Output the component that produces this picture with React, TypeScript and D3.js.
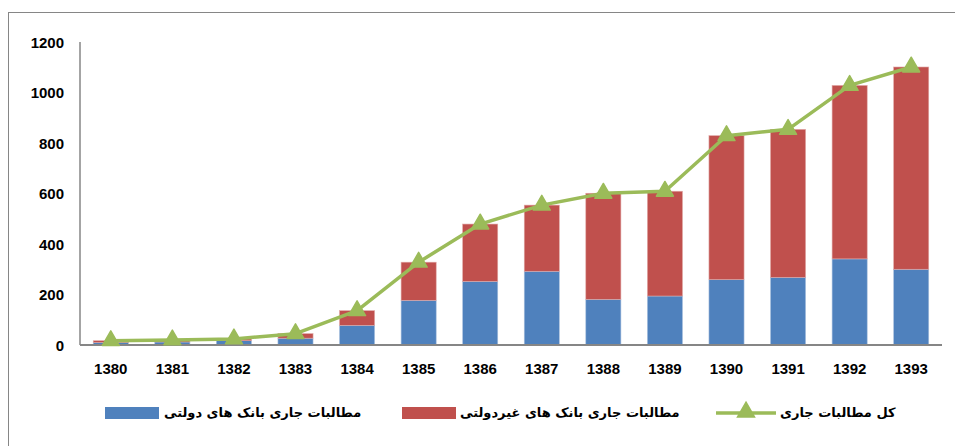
import React, { useEffect, useRef } from 'react';
import * as d3 from 'd3';

const years = ['1380', '1381', '1382', '1383', '1384', '1385', '1386', '1387', '1388', '1389', '1390', '1391', '1392', '1393'];
const govBanks = [10, 12, 17, 27, 78, 177, 252, 292, 181, 194, 259, 268, 341, 300];
const privateBanks = [7, 8, 7, 18, 58, 151, 227, 262, 420, 415, 570, 586, 687, 801];
const yTicks = [0, 200, 400, 600, 800, 1000, 1200];

const labelGov = 'مطالبات جاری بانک های دولتی';
const labelPrivate = 'مطالبات جاری بانک های غیردولتی';
const labelTotal = 'کل مطالبات جاری';

const BLUE = '#4F81BD';
const RED = '#C0504D';
const GREEN = '#9BBB59';
const AXIS = '#868686';

const App = () => {
  const ref = useRef<SVGSVGElement>(null);

  useEffect(() => {
    const svg = d3.select(ref.current);
    svg.selectAll('*').remove();

    const left = 80;
    const right = 942;
    const top = 42;
    const bottom = 345;

    // outer frame
    svg
      .append('rect')
      .attr('x', 8.5)
      .attr('y', 12.5)
      .attr('width', 960)
      .attr('height', 460)
      .attr('fill', 'white')
      .attr('stroke', AXIS)
      .attr('stroke-width', 1);

    const x = d3.scaleBand().domain(years).range([left, right]).paddingInner(0.43).paddingOuter(0.215);
    const y = d3.scaleLinear().domain([0, 1200]).range([bottom, top]);

    const totals = years.map((_, i) => govBanks[i] + privateBanks[i]);

    // bars
    const g = svg.append('g');
    years.forEach((yr, i) => {
      const x0 = x(yr) || 0;
      g.append('rect')
        .attr('x', x0)
        .attr('y', y(govBanks[i]))
        .attr('width', x.bandwidth())
        .attr('height', bottom - y(govBanks[i]))
        .attr('fill', BLUE)
        .attr('stroke', '#A9C0DE')
        .attr('stroke-width', 0.6);
      g.append('rect')
        .attr('x', x0)
        .attr('y', y(totals[i]))
        .attr('width', x.bandwidth())
        .attr('height', y(govBanks[i]) - y(totals[i]))
        .attr('fill', RED)
        .attr('stroke', '#E0A8A6')
        .attr('stroke-width', 0.6);
    });

    // axes
    svg
      .append('line')
      .attr('x1', left)
      .attr('x2', left)
      .attr('y1', top)
      .attr('y2', bottom)
      .attr('stroke', AXIS)
      .attr('stroke-width', 1.5);
    svg
      .append('line')
      .attr('x1', left)
      .attr('x2', right)
      .attr('y1', bottom)
      .attr('y2', bottom)
      .attr('stroke', AXIS)
      .attr('stroke-width', 2);

    svg
      .append('g')
      .selectAll('text')
      .data(yTicks)
      .enter()
      .append('text')
      .attr('x', 64)
      .attr('y', (d) => y(d) + 5.5)
      .attr('text-anchor', 'end')
      .attr('font-family', 'Liberation Sans, Arial, sans-serif')
      .attr('font-weight', 'bold')
      .attr('font-size', 15)
      .text((d) => d);

    svg
      .append('g')
      .selectAll('text')
      .data(years)
      .enter()
      .append('text')
      .attr('x', (d) => (x(d) || 0) + x.bandwidth() / 2)
      .attr('y', 374)
      .attr('text-anchor', 'middle')
      .attr('font-family', 'Liberation Sans, Arial, sans-serif')
      .attr('font-weight', 'bold')
      .attr('font-size', 15)
      .text((d) => d);

    // total line
    const line = d3
      .line<number>()
      .x((_, i) => (x(years[i]) || 0) + x.bandwidth() / 2)
      .y((d) => y(d));
    svg
      .append('path')
      .datum(totals)
      .attr('d', line)
      .attr('fill', 'none')
      .attr('stroke', GREEN)
      .attr('stroke-width', 3.5)
      .attr('stroke-linejoin', 'round');

    const tri = d3.symbol().type(d3.symbolTriangle).size(125);
    svg
      .append('g')
      .selectAll('path')
      .data(totals)
      .enter()
      .append('path')
      .attr('d', tri)
      .attr('transform', (d, i) => `translate(${(x(years[i]) || 0) + x.bandwidth() / 2},${y(d)})`)
      .attr('fill', GREEN)
      .attr('stroke', GREEN)
      .attr('stroke-width', 1.5)
      .attr('stroke-linejoin', 'round');

    // legend
    const ly = 413;
    const lg = svg.append('g').attr('font-family', 'DejaVu Sans, sans-serif').attr('font-weight', 'bold').attr('font-size', 13);

    lg.append('rect').attr('x', 105).attr('y', ly - 6).attr('width', 54).attr('height', 12).attr('fill', BLUE);
    lg.append('text').attr('x', 164).attr('y', ly + 4).attr('direction', 'rtl').attr('text-anchor', 'end').text(labelGov);

    lg.append('rect').attr('x', 402).attr('y', ly - 6).attr('width', 54).attr('height', 12).attr('fill', RED);
    lg.append('text').attr('x', 460).attr('y', ly + 4).attr('direction', 'rtl').attr('text-anchor', 'end').text(labelPrivate);

    lg.append('line')
      .attr('x1', 716)
      .attr('x2', 776)
      .attr('y1', ly)
      .attr('y2', ly)
      .attr('stroke', GREEN)
      .attr('stroke-width', 3.5);
    lg.append('path')
      .attr('d', tri)
      .attr('transform', `translate(746,${ly - 1})`)
      .attr('fill', GREEN)
      .attr('stroke', GREEN)
      .attr('stroke-width', 1.5);
    lg.append('text').attr('x', 780).attr('y', ly + 4).attr('direction', 'rtl').attr('text-anchor', 'end').text(labelTotal);
  }, []);

  return (
    <svg
      ref={ref}
      width={955}
      height={446}
      style={{ position: 'absolute', left: 0, top: 0, display: 'block', background: 'white' }}
    />
  );
};

export default App;
